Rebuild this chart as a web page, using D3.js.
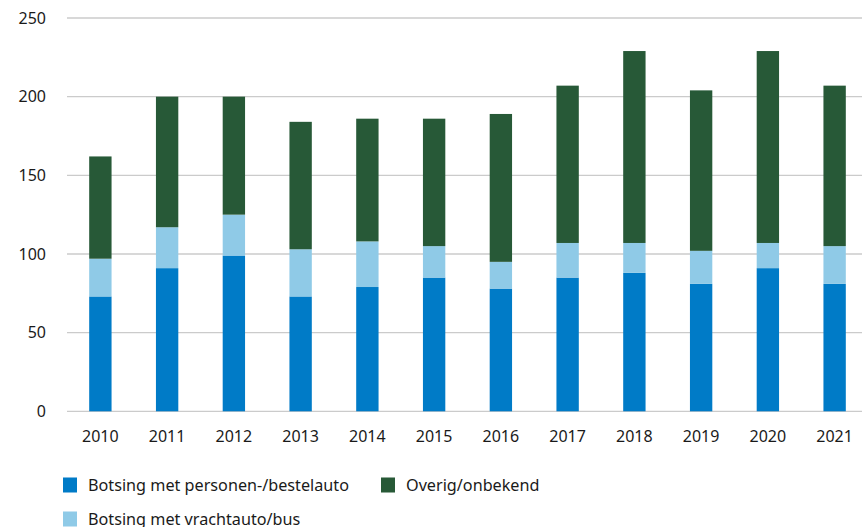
<!DOCTYPE html>
<html>
<head>
<meta charset="utf-8">
<script src="https://cdn.jsdelivr.net/npm/d3@7"></script>
<style>
  html, body { margin: 0; padding: 0; background: #fff; }
  svg { display: block; font-family: "Noto Sans", "Open Sans", sans-serif; }
</style>
</head>
<body>
<svg id="chart" width="862" height="527"></svg>
<script>
// data
const years = ["2010", "2011", "2012", "2013", "2014", "2015", "2016", "2017", "2018", "2019", "2020", "2021"];
const personenBestel = [73, 91, 99, 73, 79, 85, 78, 85, 88, 81, 91, 81];
const vrachtBus = [24, 26, 26, 30, 29, 20, 17, 22, 19, 21, 16, 24];
const overig = [65, 83, 75, 81, 78, 81, 94, 100, 122, 102, 122, 102];
const yTicks = [0, 50, 100, 150, 200, 250];
const seriesNames = ["Botsing met personen-/bestelauto", "Botsing met vrachtauto/bus", "Overig/onbekend"];
const seriesColors = ["#007bc7", "#8fcae7", "#275937"];

const width = 862;
const height = 527;
const margin = { top: 18, right: -6, bottom: 116, left: 67 };

const svg = d3.select("#chart");

const rows = years.map((y, i) => ({
  year: y,
  s0: personenBestel[i],
  s1: vrachtBus[i],
  s2: overig[i]
}));

const stack = d3.stack().keys(["s0", "s1", "s2"]);
const layers = stack(rows);

const x = d3.scaleBand()
  .domain(years)
  .range([margin.left, width - margin.right])
  .paddingInner(0.665)
  .paddingOuter(0.3325);

const y = d3.scaleLinear()
  .domain([0, 250])
  .range([411.3, margin.top]);

// gridlines
svg.append("g")
  .selectAll("line")
  .data(yTicks)
  .join("line")
  .attr("x1", margin.left)
  .attr("x2", width)
  .attr("y1", d => y(d))
  .attr("y2", d => y(d))
  .attr("stroke", "#cbcbcb")
  .attr("stroke-width", 1.3);

// y tick labels
svg.append("g")
  .selectAll("text")
  .data(yTicks)
  .join("text")
  .attr("x", 46)
  .attr("y", d => y(d))
  .attr("dy", "0.35em")
  .attr("text-anchor", "end")
  .attr("font-size", 16)
  .attr("fill", "#1a1a1a")
  .text(d => d);

// bars
svg.append("g")
  .selectAll("g")
  .data(layers)
  .join("g")
  .attr("fill", (d, i) => seriesColors[i])
  .selectAll("rect")
  .data(d => d)
  .join("rect")
  .attr("x", d => x(d.data.year))
  .attr("y", d => y(d[1]))
  .attr("width", x.bandwidth())
  .attr("height", d => y(d[0]) - y(d[1]));

// x labels
svg.append("g")
  .selectAll("text")
  .data(years)
  .join("text")
  .attr("x", d => x(d) + x.bandwidth() / 2)
  .attr("y", 436)
  .attr("dy", "0.35em")
  .attr("text-anchor", "middle")
  .attr("font-size", 16)
  .attr("fill", "#1a1a1a")
  .text(d => d);

// legend
const legendItems = [
  { i: 0, x: 63, y: 485 },
  { i: 2, x: 381, y: 485 },
  { i: 1, x: 63, y: 519 }
];

const legend = svg.append("g")
  .selectAll("g")
  .data(legendItems)
  .join("g")
  .attr("transform", d => `translate(${d.x},${d.y})`);

legend.append("rect")
  .attr("x", 0)
  .attr("y", -7.5)
  .attr("width", 14)
  .attr("height", 15)
  .attr("fill", d => seriesColors[d.i]);

legend.append("text")
  .attr("x", 25)
  .attr("y", 0)
  .attr("dy", "0.35em")
  .attr("font-size", 16.2)
  .attr("fill", "#1a1a1a")
  .text(d => seriesNames[d.i]);
</script>
</body>
</html>
